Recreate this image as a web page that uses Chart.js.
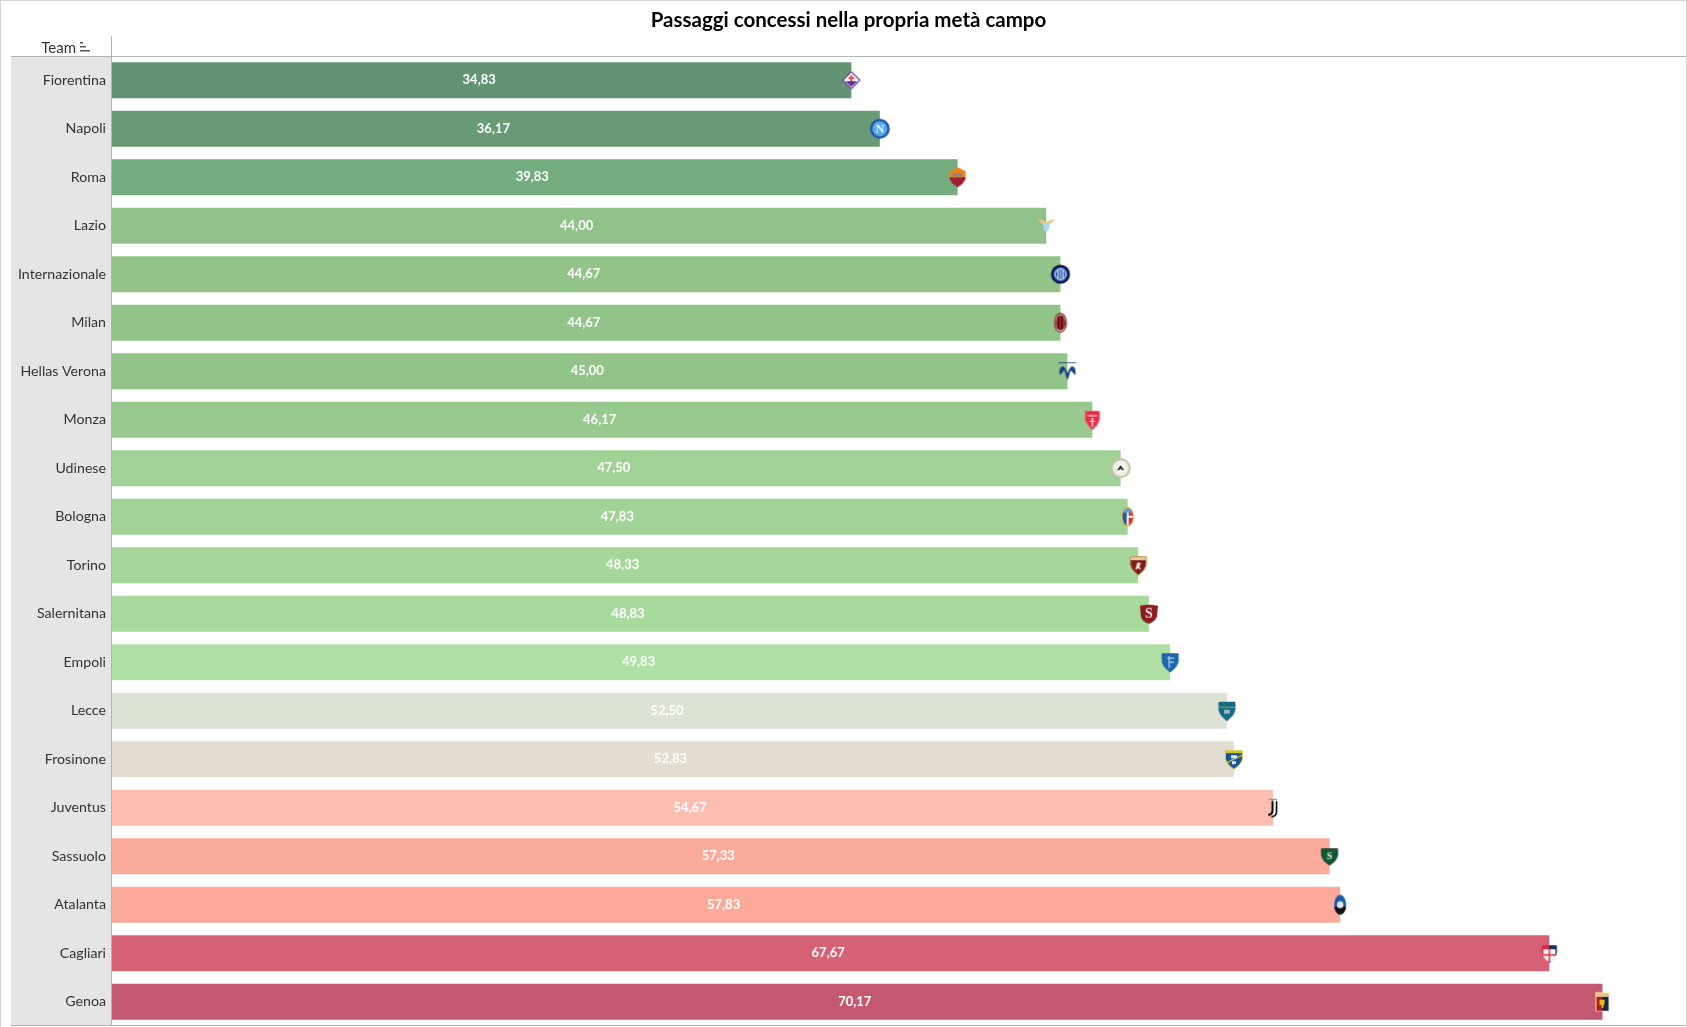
<!DOCTYPE html>
<html lang="it">
<head>
<meta charset="utf-8">
<title>Passaggi concessi nella propria metà campo</title>
<style>
html,body{margin:0;padding:0;background:#fff;overflow:hidden}
canvas{display:block}
</style>
<script src="https://cdn.jsdelivr.net/npm/chart.js@4"></script>
</head>
<body>
<canvas id="c" width="1687" height="1027" style="width:1687px;height:1027px"></canvas>
<script>
const teams = ["Fiorentina","Napoli","Roma","Lazio","Internazionale","Milan","Hellas Verona","Monza","Udinese","Bologna","Torino","Salernitana","Empoli","Lecce","Frosinone","Juventus","Sassuolo","Atalanta","Cagliari","Genoa"];
const values = [34.83,36.17,39.83,44.00,44.67,44.67,45.00,46.17,47.50,47.83,48.33,48.83,49.83,52.50,52.83,54.67,57.33,57.83,67.67,70.17];
const barColors = ["#629473","#689a75","#74ab7f","#90c189","#92c389","#92c389","#92c389","#98c98e","#a1d295","#a2d396","#a5d69a","#a8da9e","#afdfa3","#dce2d4","#e3dcd0","#febdb1","#fbab9a","#fba998","#d66074","#c45772"];
const xMax = 74.1;
const FONT = '"Lato","Open Sans",sans-serif';

function shieldPath(g,w,h){
  g.beginPath();
  g.moveTo(-w/2,-h/2+1.5);
  g.lineTo(w/2,-h/2+1.5);
  g.lineTo(w/2,-h*0.02);
  g.quadraticCurveTo(w/2-1,h*0.25,0,h/2);
  g.quadraticCurveTo(-w/2+1,h*0.25,-w/2,-h*0.02);
  g.closePath();
}
function splitShield(g,w,h,top,bottom,split,edge){
  shieldPath(g,w,h);
  g.save();g.clip();
  g.fillStyle=top;g.fillRect(-w,-h,w*2,h+split);
  g.fillStyle=bottom;g.fillRect(-w,split,w*2,h);
  g.restore();
  shieldPath(g,w,h);
  g.strokeStyle=edge;g.lineWidth=1;g.stroke();
}
function disc(g,rx,ry,color){g.beginPath();g.ellipse(0,0,rx,ry,0,0,Math.PI*2);g.fillStyle=color;g.fill();}
function letter(g,t,size,color){g.fillStyle=color;g.font='bold '+size+'px "Liberation Serif",serif';g.textAlign='center';g.textBaseline='middle';g.fillText(t,0,0.5);}

const logoPainters = {
  Fiorentina(g){
    g.beginPath();g.moveTo(0,-8.5);g.lineTo(8.5,0);g.lineTo(0,8.5);g.lineTo(-8.5,0);g.closePath();
    g.fillStyle="#fff";g.fill();g.strokeStyle="#6a3d9e";g.lineWidth=1.2;g.stroke();
    g.fillStyle="#5c2f97";g.beginPath();g.moveTo(-6,1);g.lineTo(6,1);g.lineTo(0,6.5);g.closePath();g.fill();
    g.fillStyle="#e5454a";g.fillRect(-3,-3,6,1.8);g.fillRect(-1,-5,2,6);
  },
  Napoli(g){disc(g,10,10,"#1f57ab");disc(g,7.5,7.5,"#5aaae2");letter(g,"N",12,"#e8f4fb");},
  Roma(g){
    g.beginPath();g.moveTo(0,-10);g.lineTo(8,-6);g.lineTo(8,1);g.quadraticCurveTo(7,6,0,10);g.quadraticCurveTo(-7,6,-8,1);g.lineTo(-8,-6);g.closePath();
    g.save();g.clip();
    g.fillStyle="#e78320";g.fillRect(-9,-10,18,10);g.fillStyle="#a01c2e";g.fillRect(-9,0,18,10);
    g.fillStyle="#8a8580";g.fillRect(-5,-4,9,3);g.fillRect(-4,-1,1.2,2);g.fillRect(2,-1,1.2,2);
    g.restore();
  },
  Lazio(g){
    g.fillStyle="#e9c97c";g.beginPath();g.moveTo(-9,-7);g.quadraticCurveTo(0,-5,0,-3);g.quadraticCurveTo(0,-5,9,-7);g.quadraticCurveTo(6,-2,3,-2);g.lineTo(-3,-2);g.quadraticCurveTo(-6,-2,-9,-7);g.closePath();g.fill();
    g.fillStyle="#b3d8ee";g.beginPath();g.moveTo(-3.5,-2.5);g.lineTo(3.5,-2.5);g.lineTo(3,3);g.lineTo(0,6.5);g.lineTo(-3,3);g.closePath();g.fill();
  },
  Internazionale(g){
    disc(g,9.5,9.5,"#07122e");disc(g,7.5,7.5,"#1c49b2");
    g.strokeStyle="#fff";g.lineWidth=1;g.beginPath();g.arc(0,0,5.4,0,Math.PI*2);g.stroke();
    g.beginPath();for(const x of [-2.5,0,2.5]){g.moveTo(x,-4.5);g.lineTo(x,4.5);}g.stroke();
  },
  Milan(g){
    disc(g,6.5,10,"#8c1c20");disc(g,5.4,8.8,"#dcdcdc");
    g.save();g.beginPath();g.ellipse(0,0,4.8,7.4,0,0,Math.PI*2);g.clip();
    g.fillStyle="#111";g.fillRect(-5,-8,10,16);
    g.fillStyle="#d8242b";for(const x of [-4,-1,2]){g.fillRect(x,-8,1.6,16);}
    g.restore();
  },
  "Hellas Verona"(g){
    g.fillStyle="#173f85";g.fillRect(-9,-9,18,0.8);
    g.beginPath();g.moveTo(0,9);g.quadraticCurveTo(-2,4,-3,-1);g.lineTo(-8,4);g.quadraticCurveTo(-9,-5,-4,-5);g.quadraticCurveTo(-1,-2,0,2);
    g.quadraticCurveTo(1,-2,4,-5);g.quadraticCurveTo(9,-5,8,4);g.lineTo(3,-1);g.quadraticCurveTo(2,4,0,9);g.closePath();g.fill();
  },
  Monza(g){
    splitShield(g,14,20,"#ee2846","#ee2846",0,"#f25a70");
    g.fillStyle="#fff";g.fillRect(-0.6,-2,1.2,9);g.fillRect(-2.5,1,5,1);g.fillRect(-5,-4.5,10,1);
  },
  Udinese(g){disc(g,10,10,"#c8bda5");disc(g,8,8,"#efefe9");disc(g,4,4,"#fff");g.fillStyle="#111";g.beginPath();g.moveTo(-3.5,2);g.lineTo(0,-3);g.lineTo(3.5,2);g.lineTo(1.5,2);g.lineTo(0,0);g.lineTo(-1.5,2);g.closePath();g.fill();},
  Bologna(g){
    disc(g,6.5,10,"#f0c040");
    g.save();g.beginPath();g.ellipse(0,0,5.3,8.8,0,0,Math.PI*2);g.clip();
    g.fillStyle="#2c58a5";g.fillRect(-6,-9,6,18);g.fillStyle="#ce3a3c";g.fillRect(0,-9,6,18);
    g.fillStyle="#eee";g.fillRect(-1,-9,2,18);g.fillRect(0,-1,6,2);g.fillStyle="#5f9ad0";g.fillRect(-6,-9,12,5);
    g.restore();
  },
  Torino(g){
    splitShield(g,16,20,"#e5c9a0","#7d1a1c",-5,"#c7923f");
    g.fillStyle="#f3e3da";g.beginPath();g.moveTo(-3,5);g.lineTo(-1,-3);g.lineTo(3,-2);g.lineTo(1,1);g.lineTo(3,5);g.lineTo(0,3);g.closePath();g.fill();
  },
  Salernitana(g){
    g.beginPath();g.moveTo(-9,-8);g.quadraticCurveTo(0,-10,9,-8);g.lineTo(8,3);g.quadraticCurveTo(6,8,0,10);g.quadraticCurveTo(-7,8,-8,3);g.closePath();
    g.fillStyle="#8e1b20";g.fill();letter(g,"S",14,"#f2e6e2");
  },
  Empoli(g){
    splitShield(g,16,20,"#1c67ad","#1c67ad",0,"#1c67ad");
    g.strokeStyle="#dbe8f3";g.lineWidth=1;g.beginPath();g.moveTo(-3,-4);g.lineTo(4,-4);g.moveTo(-1,-6);g.lineTo(-1,6);g.moveTo(-1,0);g.lineTo(4,0);g.stroke();
  },
  Lecce(g){
    splitShield(g,16,20,"#146b85","#146b85",0,"#146b85");
    g.fillStyle="#c18a3b";g.fillRect(-8,-4,16,1);g.fillStyle="#9fb5b5";g.fillRect(-3,-1,6,4);
  },
  Frosinone(g){
    splitShield(g,17,20,"#16509f","#16509f",0,"#e4cf2e");
    g.fillStyle="#d4c42c";g.fillRect(-8.5,-9,17,3);
    g.strokeStyle="#f4e13a";g.lineWidth=1.2;g.beginPath();g.moveTo(-8,4);g.lineTo(8,-4);g.stroke();
    g.fillStyle="#dfe7f0";g.fillRect(-3,-4,6,3);g.fillRect(-2,2,4,3);
  },
  Juventus(g){
    g.fillStyle="#888";g.fillRect(-4,-9,8,1.2);
    g.strokeStyle="#000";g.lineWidth=2;g.lineCap="round";
    g.beginPath();g.moveTo(-0.5,-6);g.lineTo(-0.5,3);g.quadraticCurveTo(-0.5,6,-4,7);g.stroke();
    g.lineWidth=1.6;g.beginPath();g.moveTo(3.5,-6);g.lineTo(3.5,4);g.quadraticCurveTo(3.5,8,-1,9);g.stroke();
  },
  Sassuolo(g){splitShield(g,16,18,"#0f5a33","#0f5a33",0,"#2b3d33");letter(g,"S",10,"#e8f2ec");},
  Atalanta(g){
    disc(g,6,10,"#1d5ea6");
    g.save();g.beginPath();g.ellipse(0,0,6,10,0,0,Math.PI*2);g.clip();g.fillStyle="#111";g.fillRect(-6,2,12,8);g.restore();
    disc(g,3.2,3.5,"#dfe6ea");
  },
  Cagliari(g){
    shieldPath(g,15,19);g.save();g.clip();
    g.fillStyle="#d52a3c";g.fillRect(-8,-10,8,20);g.fillStyle="#14305f";g.fillRect(0,-10,8,20);
    g.fillStyle="#f4f4f6";g.fillRect(-6,-4,12,12);
    g.fillStyle="#d52a3c";g.fillRect(-0.7,-4,1.4,12);g.fillRect(-6,1,12,1.4);
    g.restore();
  },
  Genoa(g){
    g.fillStyle="#f4e59a";g.fillRect(-7,-9.5,14,19);
    g.fillStyle="#b11d1f";g.fillRect(-6,-5,6,14);g.fillStyle="#12284f";g.fillRect(0,-5,6,14);
    g.fillStyle="#f0b91f";g.fillRect(-3,-2,5,5);g.fillRect(-1,3,2,3);
    g.fillStyle="#d88";g.fillRect(-6,-7.5,12,1);
  }
};
const logos = teams.map(t=>{
  const c=document.createElement('canvas');c.width=24;c.height=24;
  const g=c.getContext('2d');g.translate(12,12);logoPainters[t](g);return c;
});

const chrome = {
  id:'chrome',
  beforeDraw(ch){
    const {ctx,chartArea:a}=ch;
    ctx.save();
    ctx.fillStyle="#e5e5e5";ctx.fillRect(11,56,a.left-11,a.bottom-56);
    ctx.restore();
  },
  afterDraw(ch){
    const {ctx}=ch;
    ctx.save();
    ctx.fillStyle="#d6d6d6";
    ctx.fillRect(0,0,1687,1);ctx.fillRect(0,0,1,1027);ctx.fillRect(1686,0,1,1027);
    ctx.fillStyle="#b3b3b3";
    ctx.fillRect(11,56,1675,1);
    ctx.fillRect(11,1025,1675,1);
    ctx.fillRect(111,36,1,990);
    ctx.fillStyle="#333";ctx.font='15px '+FONT;ctx.textAlign='right';ctx.textBaseline='middle';
    ctx.fillText("Team",76,48);
    ctx.fillStyle="#555";
    ctx.fillRect(80,42,3,1.5);ctx.fillRect(80,46,6,1.5);ctx.fillRect(80,50,10,1.5);
    ctx.restore();
  }
};
const barLabels = {
  id:'barLabels',
  afterDatasetsDraw(ch){
    const {ctx}=ch;const meta=ch.getDatasetMeta(0);
    ctx.save();
    ctx.fillStyle="#fff";ctx.font='bold 13px '+FONT;ctx.textAlign='center';ctx.textBaseline='middle';
    meta.data.forEach((b,i)=>{
      ctx.fillText(values[i].toFixed(2).replace('.',','),(b.base+b.x)/2-2,b.y);
    });
    ctx.restore();
  }
};

new Chart(document.getElementById('c'),{
  data:{
    labels:teams,
    datasets:[
      {type:'bar',label:'Passaggi concessi',data:values,backgroundColor:barColors,barPercentage:0.745,categoryPercentage:1,order:2},
      {type:'line',label:'Stemmi',data:values.map((v,i)=>({x:v,y:teams[i]})),showLine:false,order:1,
       pointStyle:c=>logos[c.dataIndex],pointRadius:12,pointHoverRadius:12}
    ]
  },
  options:{
    indexAxis:'y',responsive:false,devicePixelRatio:1,animation:false,
    layout:{autoPadding:false,padding:{left:11,right:1,top:0,bottom:1}},
    plugins:{
      legend:{display:false},tooltip:{enabled:false},
      title:{display:true,text:"Passaggi concessi nella propria metà campo",color:"#000",
        font:{family:FONT,size:20.5,weight:'bold',lineHeight:1.2},padding:{top:8,bottom:23.4}}
    },
    scales:{
      x:{type:'linear',display:false,min:0,max:xMax,grid:{display:false}},
      y:{type:'category',grid:{display:false,drawTicks:false},border:{display:false},
        afterFit(s){s.width=100;s.paddingTop=0;s.paddingBottom=0;},
        ticks:{color:"#333",font:{family:FONT,size:14.2},padding:5,autoSkip:false,crossAlign:'near'}}
    }
  },
  plugins:[chrome,barLabels]
});
</script>
</body>
</html>
